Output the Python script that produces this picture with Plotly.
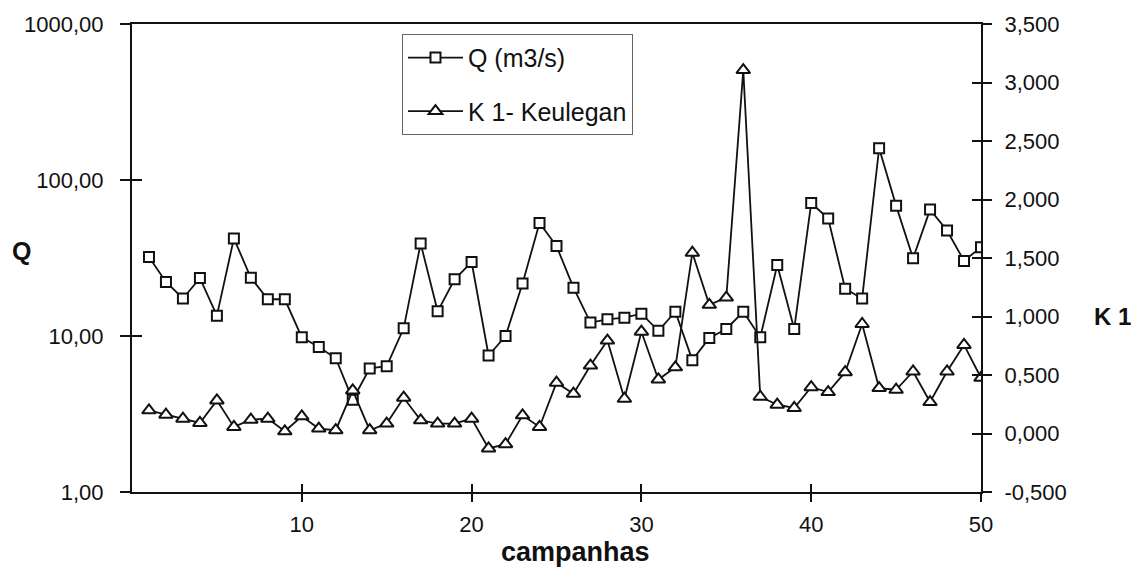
import plotly.graph_objects as go

# Campaign index (x axis)
campanhas = list(range(1, 51))

# Discharge Q (m3/s), plotted on a log axis
q_m3s = [32.1, 22.2, 17.4, 23.5, 13.5, 42.2, 23.6, 17.2, 17.2, 9.8,
         8.5, 7.2, 3.9, 6.2, 6.4, 11.2, 39.2, 14.4, 23.1, 29.8,
         7.5, 10.0, 21.7, 53.1, 37.7, 20.4, 12.2, 12.8, 13.1, 13.9,
         10.8, 14.3, 7.0, 9.7, 11.1, 14.3, 9.8, 28.5, 11.1, 71.2,
         56.6, 20.1, 17.4, 159.8, 68.5, 31.5, 64.6, 47.5, 30.3, 37.1]

# Keulegan number K1 (right axis)
k1_keulegan = [0.198, 0.161, 0.127, 0.090, 0.283, 0.056, 0.118, 0.127, 0.019, 0.147,
               0.042, 0.028, 0.368, 0.028, 0.085, 0.306, 0.113, 0.085, 0.085, 0.127,
               -0.128, -0.091, 0.155, 0.056, 0.434, 0.340, 0.581, 0.794, 0.297, 0.870,
               0.462, 0.566, 1.545, 1.100, 1.162, 3.106, 0.314, 0.246, 0.218, 0.396,
               0.354, 0.524, 0.936, 0.388, 0.374, 0.530, 0.269, 0.530, 0.757, 0.476]

# Tick labels
q_tickvals = [1, 10, 100, 1000]
q_ticktext = ["1,00", "10,00", "100,00", "1000,00"]
k_tickvals = [-0.5, 0.0, 0.5, 1.0, 1.5, 2.0, 2.5, 3.0, 3.5]
k_ticktext = ["-0,500", "0,000", "0,500", "1,000", "1,500", "2,000", "2,500", "3,000", "3,500"]
x_tickvals = [10, 20, 30, 40, 50]

FONT = "Liberation Sans, Arial, sans-serif"
INK = "#111111"

fig = go.Figure()

fig.add_trace(go.Scatter(
    x=campanhas, y=q_m3s, name="Q (m3/s)", mode="lines+markers",
    line=dict(color=INK, width=1.8),
    marker=dict(symbol="square", size=10, color="white", line=dict(color=INK, width=2)),
    legendgroup="q", yaxis="y",
))
fig.add_trace(go.Scatter(
    x=campanhas, y=k1_keulegan, name="K 1- Keulegan", mode="lines+markers",
    line=dict(color=INK, width=1.8),
    marker=dict(symbol="triangle-up", size=12, color="white", line=dict(color=INK, width=2)),
    legendgroup="k", yaxis="y2",
))

# empty traces so the overlay axes (inner tick halves) get drawn
fig.add_trace(go.Scatter(x=[None], y=[None], xaxis="x3", yaxis="y3",
                         showlegend=False, hoverinfo="skip"))
fig.add_trace(go.Scatter(x=[None], y=[None], xaxis="x", yaxis="y4",
                         showlegend=False, hoverinfo="skip"))

tickfont = dict(family=FONT, size=22, color=INK)

fig.update_layout(
    width=1139, height=567,
    margin=dict(l=132, r=158, t=22, b=75),
    paper_bgcolor="white", plot_bgcolor="white",
    showlegend=True,
    legend=dict(
        x=0.318, y=0.979, xanchor="left", yanchor="top",
        font=dict(family=FONT, size=25, color=INK),
        bordercolor="#666666", borderwidth=1, bgcolor="white",
        itemwidth=55, tracegroupgap=18,
    ),
    xaxis=dict(
        range=[0, 50], tickvals=x_tickvals, ticks="outside", ticklen=8, tickwidth=1.5,
        tickcolor=INK, showline=True, linecolor=INK, linewidth=2, mirror=True,
        showgrid=False, zeroline=False, tickfont=tickfont, ticklabelstandoff=4,
    ),
    yaxis=dict(
        type="log", range=[0, 3], tickvals=q_tickvals, ticktext=q_ticktext,
        ticks="outside", ticklen=10, tickwidth=1.5, tickcolor=INK,
        showline=True, linecolor=INK, linewidth=2, showgrid=False, zeroline=False,
        tickfont=tickfont, ticklabelstandoff=12,
    ),
    yaxis2=dict(
        overlaying="y", side="right", range=[-0.5, 3.5], tickvals=k_tickvals,
        ticktext=k_ticktext, ticks="outside", ticklen=9, tickwidth=1.5, tickcolor=INK,
        showline=True, linecolor=INK, linewidth=2, showgrid=False, zeroline=False,
        tickfont=tickfont, ticklabelstandoff=8,
    ),
    # inner halves of the crossing tick marks
    xaxis3=dict(
        overlaying="x", anchor="y", range=[0, 50], tickvals=x_tickvals, ticks="inside",
        ticklen=8, tickwidth=1.5, tickcolor=INK, showticklabels=False,
        showline=False, showgrid=False, zeroline=False,
    ),
    yaxis3=dict(
        overlaying="y", anchor="x", side="left", type="log", range=[0, 3],
        tickvals=q_tickvals, ticks="inside", ticklen=10, tickwidth=1.5, tickcolor=INK,
        showticklabels=False, showline=False, showgrid=False, zeroline=False,
    ),
    yaxis4=dict(
        overlaying="y", anchor="x", side="right", range=[-0.5, 3.5],
        tickvals=k_tickvals, ticks="inside", ticklen=9, tickwidth=1.5, tickcolor=INK,
        showticklabels=False, showline=False, showgrid=False, zeroline=False,
    ),
    annotations=[
        dict(text="<b>Q</b>", xref="paper", yref="paper", x=-0.1296, y=0.515,
             xanchor="center", yanchor="middle",
             showarrow=False, font=dict(family=FONT, size=25, color=INK)),
        dict(text="<b>K 1</b>", xref="paper", yref="paper", x=1.155, y=0.374,
             xanchor="center", yanchor="middle",
             showarrow=False, font=dict(family=FONT, size=24, color=INK)),
        dict(text="<b>campanhas</b>", xref="paper", yref="paper", x=0.522, y=-0.128,
             xanchor="center", yanchor="middle",
             showarrow=False, font=dict(family=FONT, size=27, color=INK)),
    ],
)

fig.write_html("out.html")
